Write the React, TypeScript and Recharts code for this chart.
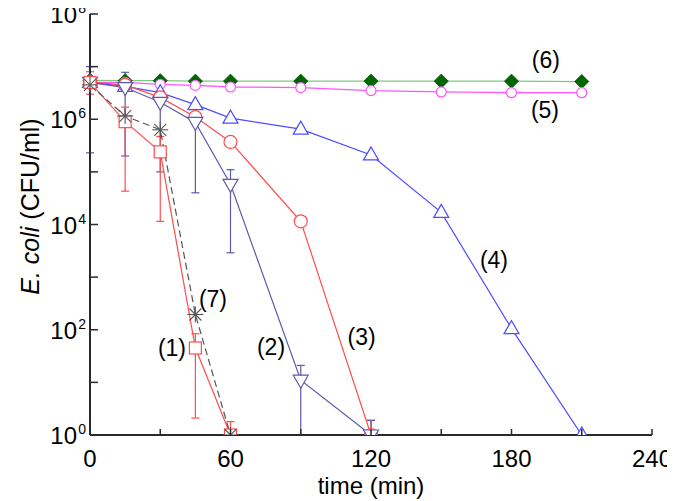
import React from "react";
import {
  ErrorBar,
  Line,
  LineChart,
  ReferenceDot,
  XAxis,
  YAxis,
} from "recharts";

const FONT = "'Liberation Sans', Arial, sans-serif";

// time points (min) and values (CFU/ml) per curve
const t1 = [0, 15, 30, 45, 60];
const v1 = [5e6, 9e5, 2.4e5, 45, 1];
const lo1 = [3e6, 4.3e4, 1.15e4, 2.1, 1];
const hi1 = [8e6, 1.7e6, 4.7e5, 84, 1.8];

const t2 = [0, 15, 30, 45, 60, 90, 120];
const v2 = [5e6, 4e6, 2.1e6, 8.7e5, 5.8e4, 11, 1];
const lo2 = [2.3e5, 2e5, 1e5, 4e4, 2.9e3, 1, 1];
const hi2 = [1e7, 7.8e6, 2.1e6, 9.5e5, 1.1e5, 21, 1.9];

const t3 = [0, 15, 30, 45, 60, 90, 120];
const v3 = [5e6, 4.5e6, 2.6e6, 1.1e6, 3.7e5, 1.15e4, 1];
const lo3 = [5e6, 4.5e6, 2.6e6, 1.1e6, 3.7e5, 1.15e4, 1];
const hi3 = [5e6, 4.5e6, 2.6e6, 1.1e6, 3.7e5, 1.15e4, 1.9];

const t4 = [0, 15, 30, 45, 60, 90, 120, 150, 180, 210];
const v4 = [5e6, 4.2e6, 3.2e6, 1.9e6, 1.05e6, 6.5e5, 2.1e5, 1.7e4, 105, 1];

const t5 = [0, 15, 30, 45, 60, 90, 120, 150, 180, 210];
const v5 = [5e6, 5e6, 4.6e6, 4.4e6, 4.1e6, 4e6, 3.5e6, 3.3e6, 3.2e6, 3.2e6];

const t6 = [0, 15, 30, 45, 60, 90, 120, 150, 180, 210];
const v6 = [5.5e6, 5.4e6, 5.4e6, 5.3e6, 5.3e6, 5.3e6, 5.3e6, 5.3e6, 5.3e6, 5.2e6];

const t7 = [0, 15, 30, 45, 60];
const v7 = [4.5e6, 1.15e6, 6.3e5, 195, 1];

const xTicks = [0, 30, 60, 90, 120, 150, 180, 210, 240];
const yTicks = [1, 10, 100, 1e3, 1e4, 1e5, 1e6, 1e7, 1e8];

// curve labels: [text, time, value]
const curveLabels: [string, number, number][] = [
  ["(1)", 35, 45],
  ["(2)", 77.3, 47],
  ["(3)", 116, 73],
  ["(4)", 172.5, 2.1e3],
  ["(5)", 194.3, 1.5e6],
  ["(6)", 194.7, 1.35e7],
  ["(7)", 52.5, 390],
];

const build = (t: number[], v: number[], lo?: number[], hi?: number[]) =>
  t.map((x, i) => ({
    t: x,
    v: v[i],
    err: lo && hi ? [v[i] - lo[i], hi[i] - v[i]] : [0, 0],
  }));

const d1 = build(t1, v1, lo1, hi1);
const d2 = build(t2, v2, lo2, hi2);
const d3 = build(t3, v3, lo3, hi3);
const d4 = build(t4, v4);
const d5 = build(t5, v5);
const d6 = build(t6, v6);
const d7 = build(t7, v7);

const RED = "#ff4d4d";
const SLATE = "#5a5aae";
const BLUE = "#4d4dff";
const MAGENTA = "#ff55ff";
const GREEN = "#80c880";
const DKGREEN = "#006400";
const GRAY = "#555555";
const AXIS = "#2a2a2a";

const Square = ({ cx, cy }: any) =>
  cx == null ? null : (
    <rect x={cx - 6} y={cy - 6} width={12} height={12} fill="#fff" stroke={RED} strokeWidth={1.2} />
  );
const Circle = (color: string, r: number) => ({ cx, cy }: any) =>
  cx == null ? null : <circle cx={cx} cy={cy} r={r} fill="#fff" stroke={color} strokeWidth={1.2} />;
const TriUp = ({ cx, cy }: any) =>
  cx == null ? null : (
    <polygon
      points={`${cx},${cy - 8} ${cx - 7.5},${cy + 5} ${cx + 7.5},${cy + 5}`}
      fill="#fff"
      stroke={BLUE}
      strokeWidth={1.2}
    />
  );
const TriDown = ({ cx, cy }: any) =>
  cx == null ? null : (
    <polygon
      points={`${cx},${cy + 8} ${cx - 7.5},${cy - 5} ${cx + 7.5},${cy - 5}`}
      fill="#fff"
      stroke={SLATE}
      strokeWidth={1.2}
    />
  );
const Diamond = ({ cx, cy }: any) =>
  cx == null ? null : (
    <polygon
      points={`${cx},${cy - 7} ${cx + 7},${cy} ${cx},${cy + 7} ${cx - 7},${cy}`}
      fill={DKGREEN}
      stroke={DKGREEN}
    />
  );
const Star = ({ cx, cy }: any) =>
  cx == null ? null : (
    <g stroke={GRAY} strokeWidth={1.1}>
      <line x1={cx - 8} y1={cy} x2={cx + 8} y2={cy} />
      <line x1={cx} y1={cy - 8} x2={cx} y2={cy + 8} />
      <line x1={cx - 6} y1={cy - 6} x2={cx + 6} y2={cy + 6} />
      <line x1={cx - 6} y1={cy + 6} x2={cx + 6} y2={cy - 6} />
    </g>
  );

const YTick = ({ x, y, payload }: any) => {
  const e = Math.round(Math.log10(payload.value));
  return (
    <g>
      <line x1={x} x2={x + 8} y1={y} y2={y} stroke={AXIS} strokeWidth={1.5} />
      {e % 2 === 0 && (
        <g fontFamily={FONT} fill="#000">
          <text x={x - 13} y={y + 9} textAnchor="end" fontSize={24}>
            10
          </text>
          <text x={x - 4} y={y - 1} textAnchor="end" fontSize={14}>
            {e}
          </text>
        </g>
      )}
    </g>
  );
};

const XTick = ({ x, y, payload }: any) => (
  <g>
    <line x1={x} x2={x} y1={y} y2={y - 6} stroke={AXIS} strokeWidth={1.5} />
    {payload.value % 60 === 0 && (
      <text x={x} y={y + 23} textAnchor="middle" dominantBaseline="central" fontSize={24} fontFamily={FONT} fill="#000">
        {payload.value}
      </text>
    )}
  </g>
);

const YTitle = ({ viewBox }: any) => {
  const cx = viewBox.x + 30;
  const cy = viewBox.y + viewBox.height / 2 - 18;
  return (
    <text
      x={cx}
      y={cy}
      transform={`rotate(-90, ${cx}, ${cy})`}
      textAnchor="middle"
      dominantBaseline="central"
      fontSize={25}
      fontFamily={FONT}
      fill="#000"
    >
      <tspan fontStyle="italic">E. coli</tspan> (CFU/ml)
    </text>
  );
};

const XTitle = ({ viewBox }: any) => (
  <text
    x={viewBox.x + viewBox.width / 2}
    y={viewBox.y + 50}
    textAnchor="middle"
    dominantBaseline="central"
    fontSize={24}
    fontFamily={FONT}
    fill="#000"
  >
    time (min)
  </text>
);

export default function App() {
  return (
    <div style={{ background: "#fff", margin: "-8px 0 0 -8px", width: 675, height: 501 }}>
      <LineChart width={675} height={501} margin={{ top: 14, right: 23, left: 0, bottom: 0 }}>
        <XAxis
          type="number"
          dataKey="t"
          domain={[0, 240]}
          ticks={xTicks}
          tick={<XTick />}
          tickLine={false}
          tickSize={0}
          tickMargin={0}
          height={66}
          axisLine={{ stroke: AXIS, strokeWidth: 2 }}
          label={<XTitle />}
        />
        <XAxis
          xAxisId="top"
          orientation="top"
          type="number"
          domain={[0, 240]}
          height={0}
          tick={false}
          tickLine={false}
          axisLine={{ stroke: AXIS, strokeWidth: 2 }}
        />
        <YAxis
          scale="log"
          type="number"
          domain={[1, 1e8]}
          allowDataOverflow
          ticks={yTicks}
          tick={<YTick />}
          tickLine={false}
          tickSize={0}
          tickMargin={0}
          width={90}
          axisLine={{ stroke: AXIS, strokeWidth: 2 }}
          label={<YTitle />}
        />
        <YAxis
          yAxisId="right"
          orientation="right"
          type="number"
          domain={[0, 1]}
          width={0}
          tick={false}
          tickLine={false}
          axisLine={{ stroke: AXIS, strokeWidth: 2 }}
        />
        <Line data={d6} dataKey="v" stroke={GREEN} strokeWidth={1.3} dot={<Diamond />} isAnimationActive={false} />
        <Line data={d5} dataKey="v" stroke={MAGENTA} strokeWidth={1.3} dot={Circle(MAGENTA, 5)} isAnimationActive={false} />
        <Line data={d4} dataKey="v" stroke={BLUE} strokeWidth={1.2} dot={<TriUp />} isAnimationActive={false} />
        <Line data={d3} dataKey="v" stroke={RED} strokeWidth={1.2} dot={Circle(RED, 6.5)} isAnimationActive={false}>
          <ErrorBar dataKey="err" direction="y" width={4} stroke={RED} strokeWidth={1.2} />
        </Line>
        <Line data={d2} dataKey="v" stroke={SLATE} strokeWidth={1.2} dot={<TriDown />} isAnimationActive={false}>
          <ErrorBar dataKey="err" direction="y" width={4} stroke={SLATE} strokeWidth={1.2} />
        </Line>
        <Line data={d1} dataKey="v" stroke={RED} strokeWidth={1.2} dot={<Square />} isAnimationActive={false}>
          <ErrorBar dataKey="err" direction="y" width={4} stroke={RED} strokeWidth={1.2} />
        </Line>
        <Line
          data={d7}
          dataKey="v"
          stroke={GRAY}
          strokeWidth={1.2}
          strokeDasharray="7 4"
          dot={<Star />}
          isAnimationActive={false}
        />
        {curveLabels.map(([txt, x, y]) => (
          <ReferenceDot
            key={txt}
            x={x}
            y={y}
            r={0}
            fill="none"
            stroke="none"
            label={{ value: txt, position: "center", fontSize: 23, fill: "#000", fontFamily: FONT }}
          />
        ))}
      </LineChart>
    </div>
  );
}
